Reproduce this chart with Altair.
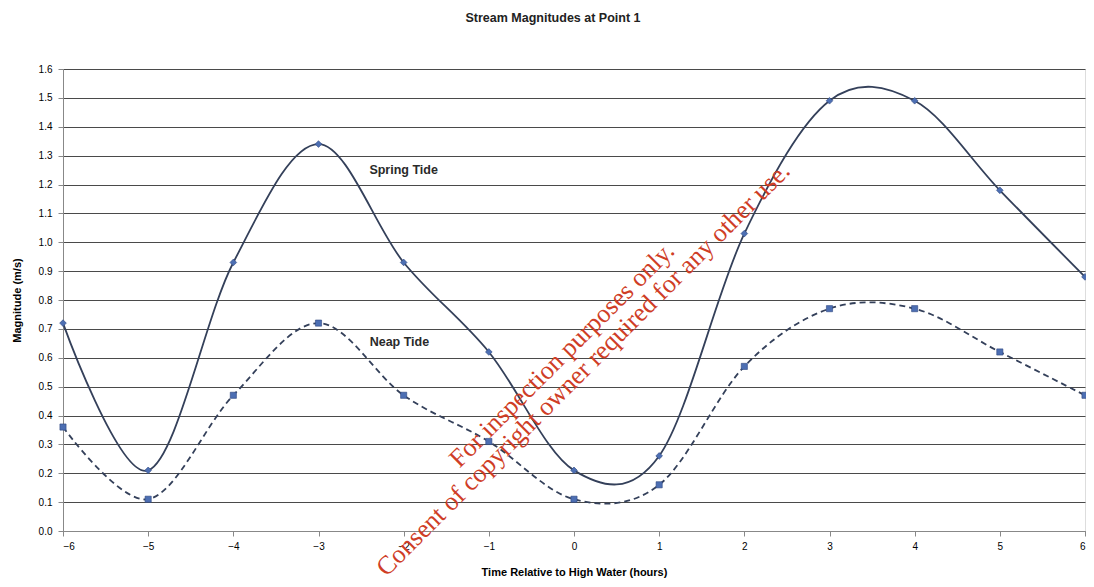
import altair as alt
import pandas as pd

hours = [-6, -5, -4, -3, -2, -1, 0, 1, 2, 3, 4, 5, 6]
spring = [0.72, 0.21, 0.93, 1.34, 0.93, 0.62, 0.21, 0.26, 1.03, 1.49, 1.49, 1.18, 0.88]
neap = [0.36, 0.11, 0.47, 0.72, 0.47, 0.31, 0.11, 0.16, 0.57, 0.77, 0.77, 0.62, 0.47]

label_text = ["Spring Tide", "Neap Tide"]
label_x = [-2.0, -2.05]
label_y = [1.25, 0.655]

wm_text = ["For inspection purposes only.",
           "Consent of copyright owner required for any other use."]
wm_x = [-0.14, 0.11]
wm_y = [0.61, 0.56]

y_ticks = [round(i * 0.1, 1) for i in range(17)]

df_s = pd.DataFrame({"h": hours, "v": spring})
df_n = pd.DataFrame({"h": hours, "v": neap})
df_lab = pd.DataFrame({"h": label_x, "v": label_y, "t": label_text})
df_wm = pd.DataFrame({"h": wm_x, "v": wm_y, "t": wm_text})

FONT = "Liberation Sans"
LINE = "#34405a"
MARK = "#4d6fb3"
GRID = "#4a4a4a"

xs = alt.Scale(domain=[-6, 6], nice=False, zero=False)
ys = alt.Scale(domain=[0, 1.6], nice=False)

x_enc = alt.X("h:Q", scale=xs,
              axis=alt.Axis(values=hours, format="d", grid=False, tickSize=5, labelPadding=5,
                            title="Time Relative to High Water (hours)",
                            titleY=41, titleBaseline="middle"))
y_enc = alt.Y("v:Q", scale=ys,
              axis=alt.Axis(values=y_ticks, format=".1f", grid=True, tickSize=5,
                            gridColor=GRID, gridOpacity=1, gridWidth=1.2,
                            labelPadding=6, labelOverlap=False, title="Magnitude (m/s)",
                            titleX=-46, titleY=231, titleAngle=270,
                            titleBaseline="middle", titleAlign="center"))

spring_line = alt.Chart(df_s).mark_line(
    interpolate="cardinal", tension=0, color=LINE, strokeWidth=1.8
).encode(x=x_enc, y=y_enc)

neap_line = alt.Chart(df_n).mark_line(
    interpolate="cardinal", tension=0, color=LINE, strokeWidth=1.8, strokeDash=[6, 4]
).encode(x=x_enc, y=y_enc)

spring_pts = alt.Chart(df_s).mark_point(
    shape="diamond", filled=True, size=45, color=MARK, stroke="#2d4680", strokeWidth=0.6, opacity=1
).encode(x=x_enc, y=y_enc)

neap_pts = alt.Chart(df_n).mark_point(
    shape="square", filled=True, size=38, color=MARK, stroke="#2d4680", strokeWidth=0.6, opacity=1
).encode(x=x_enc, y=y_enc)

labels = alt.Chart(df_lab).mark_text(
    font=FONT, fontSize=12.5, fontWeight="bold", color="#2a2a2a"
).encode(x=x_enc, y=y_enc, text="t:N")

watermark = alt.Chart(df_wm).mark_text(
    font="Liberation Serif", fontSize=26, color="#cf3d26", angle=315
).encode(x=x_enc, y=y_enc, text="t:N")

chart = alt.layer(
    spring_line, neap_line, spring_pts, neap_pts, labels, watermark
).properties(
    width=1022, height=462,
    autosize=alt.AutoSizeParams(type="none"),
    padding={"left": 55, "top": 61, "right": 1, "bottom": 52},
    title=alt.TitleParams("Stream Magnitudes at Point 1", font=FONT, fontSize=12.5,
                          fontWeight="bold", color="#222", anchor="middle",
                          offset=40, dx=-21),
).configure_view(
    stroke="#3a3a3a", strokeWidth=1.2
).configure_axis(
    labelFont=FONT, labelFontSize=12.5, labelColor="#333",
    titleFont=FONT, titleFontSize=11.5, titleFontWeight="bold", titleColor="#222",
    domainColor="#3a3a3a", tickColor="#3a3a3a", gridColor=GRID,
    gridWidth=1.2, gridOpacity=1, domainWidth=1.2, labelFlush=False
).configure(background="white")

chart.save("out.html", embed_options={"renderer": "svg", "actions": False})
